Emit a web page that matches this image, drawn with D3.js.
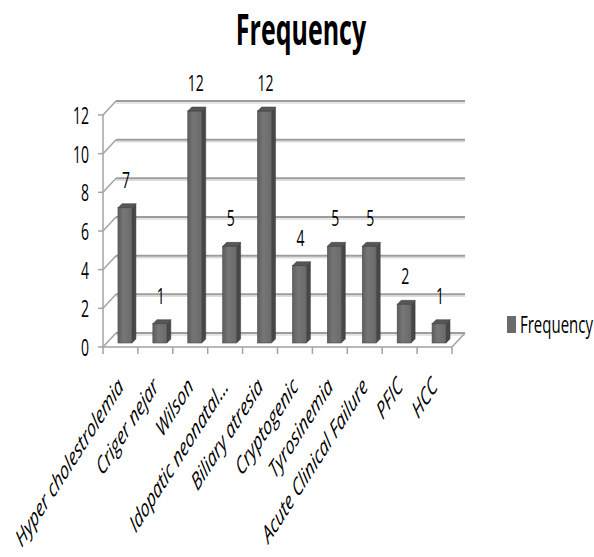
<!DOCTYPE html>
<html>
<head>
<meta charset="utf-8">
<script src="https://cdn.jsdelivr.net/npm/d3@7"></script>
<style>
  body { margin: 0; background: #fff; }
  text { font-family: "Open Sans", "Noto Sans", sans-serif; fill: #000; }
</style>
</head>
<body>
<svg id="chart" width="594" height="557"></svg>
<script>
// data
const categories = ["Hyper cholestrolemia", "Criger nejar", "Wilson", "Idopatic neonatal...",
                    "Biliary atresia", "Cryptogenic", "Tyrosinemia", "Acute Clinical Failure", "PFIC", "HCC"];
const values = [7, 1, 12, 5, 12, 4, 5, 5, 2, 1];
const yTicks = [0, 2, 4, 6, 8, 10, 12];
const seriesName = "Frequency";

const svg = d3.select("#chart");

// front edge of the 3d box
const xScale = d3.scaleBand().domain(categories).range([103, 452]);
const yScale = d3.scaleLinear().domain([0, 12]).range([347, 115]);
const depth = { dx: 13, dy: -14 };   // back wall offset
const barOff = { dx: 4, dy: -4 };    // bars sit a little behind front edge
const barDepth = 4;

const defs = svg.append("defs");
const grad = defs.append("linearGradient").attr("id", "barFront");
grad.append("stop").attr("offset", "0%").attr("stop-color", "#5e5e5e");
grad.append("stop").attr("offset", "40%").attr("stop-color", "#767676");
grad.append("stop").attr("offset", "100%").attr("stop-color", "#6a6a6a");

// title
svg.append("text")
   .attr("transform", "translate(301,45) scale(1,1.75)")
   .attr("text-anchor", "middle")
   .style("font-size", "25px")
   .style("font-weight", "bold")
   .text("Frequency");

// back wall gridlines + left wall diagonals
const grid = svg.append("g").attr("class", "grid");
yTicks.forEach(t => {
    const y0 = yScale(t);
    grid.append("line")
        .attr("x1", xScale.range()[0] + depth.dx).attr("x2", xScale.range()[1] + depth.dx)
        .attr("y1", y0 + depth.dy + 2).attr("y2", y0 + depth.dy + 2)
        .style("stroke", "#dcdcdc").style("stroke-width", 1.5);
    grid.append("line")
        .attr("x1", xScale.range()[0] + depth.dx).attr("x2", xScale.range()[1] + depth.dx)
        .attr("y1", y0 + depth.dy).attr("y2", y0 + depth.dy)
        .style("stroke", "#9d9d9d").style("stroke-width", 2);
    grid.append("line")
        .attr("x1", xScale.range()[0]).attr("x2", xScale.range()[0] + depth.dx)
        .attr("y1", y0).attr("y2", y0 + depth.dy)
        .style("stroke", "#a3a3a3").style("stroke-width", 1.5);
    // tick
    grid.append("line")
        .attr("x1", xScale.range()[0] - 5).attr("x2", xScale.range()[0])
        .attr("y1", y0).attr("y2", y0)
        .style("stroke", "#a3a3a3").style("stroke-width", 1.5);
});

// floor
const x0 = xScale.range()[0], x1 = xScale.range()[1], yb = yScale(0);
svg.append("path")
   .attr("d", `M${x0},${yb}L${x1},${yb}L${x1 + depth.dx},${yb + depth.dy}`)
   .style("fill", "none").style("stroke", "#a3a3a3").style("stroke-width", 1.5);
// vertical axis
svg.append("line")
   .attr("x1", x0).attr("x2", x0).attr("y1", yScale(12)).attr("y2", yb)
   .style("stroke", "#a3a3a3").style("stroke-width", 1.5);
// category ticks
d3.range(categories.length + 1).forEach(i => {
    const tx = x0 + i * xScale.step();
    svg.append("line")
       .attr("x1", tx).attr("x2", tx).attr("y1", yb).attr("y2", yb + 7)
       .style("stroke", "#a3a3a3").style("stroke-width", 1.5);
});

// y labels
svg.append("g").selectAll("text")
   .data(yTicks)
   .enter().append("text")
   .attr("transform", d => `translate(89,${yScale(d) + 9}) scale(1,1.65)`)
   .attr("text-anchor", "end")
   .style("font-size", "14px")
   .text(d => d);

// bars
const bw = xScale.bandwidth() * 0.4;
const bars = svg.append("g");
categories.forEach((c, i) => {
    const v = values[i];
    const bx = xScale(c) + xScale.bandwidth() / 2 + 4.5 - bw / 2;
    const top = yScale(v) + barOff.dy;
    const bot = yScale(0) + barOff.dy;
    bars.append("polygon")
        .attr("points", [[bx + bw, top], [bx + bw + barDepth, top - barDepth],
                         [bx + bw + barDepth, bot - barDepth], [bx + bw, bot]].join(" "))
        .style("fill", "#474747").style("stroke", "#3a3a3a").style("stroke-width", 0.5);
    bars.append("rect")
        .attr("x", bx).attr("y", top).attr("width", bw).attr("height", bot - top)
        .style("fill", "url(#barFront)").style("stroke", "#4a4a4a").style("stroke-width", 0.6);
    bars.append("polygon")
        .attr("points", [[bx, top], [bx + barDepth, top - barDepth],
                         [bx + bw + barDepth, top - barDepth], [bx + bw, top]].join(" "))
        .style("fill", "#565656").style("stroke", "#3a3a3a").style("stroke-width", 0.5);
    // data label
    svg.append("text")
       .attr("transform", `translate(${bx + bw / 2 + 1},${yScale(v) - 24}) scale(1,1.55)`)
       .attr("text-anchor", "middle")
       .style("font-size", "14px")
       .text(v);
});

// category labels
svg.append("g").selectAll("text")
   .data(categories)
   .enter().append("text")
   .attr("transform", d => `translate(${xScale(d) + xScale.bandwidth() / 2 + 4},388) scale(1,1.56) rotate(-45)`)
   .attr("text-anchor", "end")
   .style("font-size", "15.5px")
   .style("font-style", "italic")
   .text(d => d);

// legend
svg.append("rect")
   .attr("x", 507).attr("y", 316).attr("width", 9).attr("height", 17)
   .style("fill", "#6b6b6b");
svg.append("text")
   .attr("transform", "translate(520,333) scale(1,1.6)")
   .style("font-size", "15px")
   .text(seriesName);
</script>
</body>
</html>
